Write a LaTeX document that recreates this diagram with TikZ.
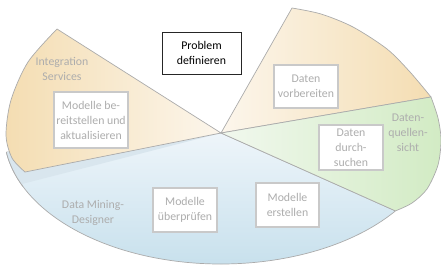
\documentclass[tikz,border=0pt]{standalone}
\usepackage{fontspec}
\setmainfont{Carlito}
\usepackage{xcolor}
\usepackage{tikz}

\definecolor{edgegray}{HTML}{ABABAB}
\definecolor{boxgray}{HTML}{C9C9C9}
\definecolor{labelgray}{HTML}{ADADAD}
\definecolor{orangeD}{HTML}{F4DDB2}
\definecolor{orangeL}{HTML}{FCF6EC}
\definecolor{greenD}{HTML}{D2EBC4}
\definecolor{greenL}{HTML}{F1F8EE}
\definecolor{blueD}{HTML}{C3DEEB}
\definecolor{blueL}{HTML}{EEF5FA}
\definecolor{bandblue}{HTML}{D9E6EE}

\begin{document}
\begin{tikzpicture}[x=1pt, y=-1pt,
    slice/.style={draw=edgegray, line width=0.7pt, line join=round},
    stagebox/.style={draw=boxgray, line width=1.1pt, fill=white, text=labelgray,
        align=center, inner sep=0pt, font=\fontsize{11.8}{15}\selectfont},
    probbox/.style={draw=black!85, line width=0.8pt, fill=white, text=black,
        align=center, inner sep=0pt, font=\fontsize{11.8}{15}\selectfont},
    toollabel/.style={text=labelgray, align=center, inner sep=0pt,
        font=\fontsize{11.8}{15}\selectfont}]
    \useasboundingbox (0,0) rectangle (441,271);
    \coordinate (c) at (221,133);
    % bottom slice
    \draw[slice, top color=blueL, bottom color=blueD] (c) -- ++(36.5:217 and 131)
        arc[start angle=36.5, end angle=171.6, x radius=217, y radius=131] -- cycle;
    \fill[bandblue] (c) -- ++(171.6:217 and 131)
        arc[start angle=171.6, end angle=157, x radius=217, y radius=131] -- cycle;
    \draw[edgegray, line width=0.7pt] (c) ++(171.6:217 and 131)
        arc[start angle=171.6, end angle=156, x radius=217, y radius=131];
    % left slice
    \draw[slice, left color=orangeD, right color=orangeL] (c) -- plot[smooth]
        coordinates {(57,29) (28,62) (11,100) (6,135) (12,158) (25,172)} -- cycle;
    % upper right slice
    \draw[slice, left color=orangeL, right color=orangeD] (c) -- plot[smooth]
        coordinates {(292,8) (321,14) (353,27) (387,49) (410,72) (431,97)} -- cycle;
    % right slice
    \draw[slice, left color=greenL, right color=greenD] (c) -- plot[smooth]
        coordinates {(431,97) (438,118) (441,140) (438,165) (427,189) (412,203) (395.4,210.9)} -- cycle;

    \node[probbox, minimum width=79pt, minimum height=42pt] (problem) at (201.5,53) {Problem\\definieren};
    \node[stagebox, minimum width=74pt, minimum height=56pt] (deploy) at (91,120) {Modelle be-\\reitstellen und\\aktualisieren};
    \node[stagebox, minimum width=64pt, minimum height=43pt] (prepare) at (306,86.5) {Daten\\vorbereiten};
    \node[stagebox, minimum width=64pt, minimum height=45pt] (explore) at (351,147.5) {Daten\\durch-\\suchen};
    \node[stagebox, minimum width=64pt, minimum height=44pt] (validate) at (185,210) {Modelle\\überprüfen};
    \node[stagebox, minimum width=63pt, minimum height=44pt] (build) at (287.5,205) {Modelle\\erstellen};

    \node[toollabel] (ssis) at (62,69) {Integration\\Services};
    \node[toollabel] (dsv) at (408,133) {Daten-\\quellen-\\sicht};
    \node[toollabel] (dmd) at (93,213) {Data Mining-\\Designer};
\end{tikzpicture}
\end{document}
